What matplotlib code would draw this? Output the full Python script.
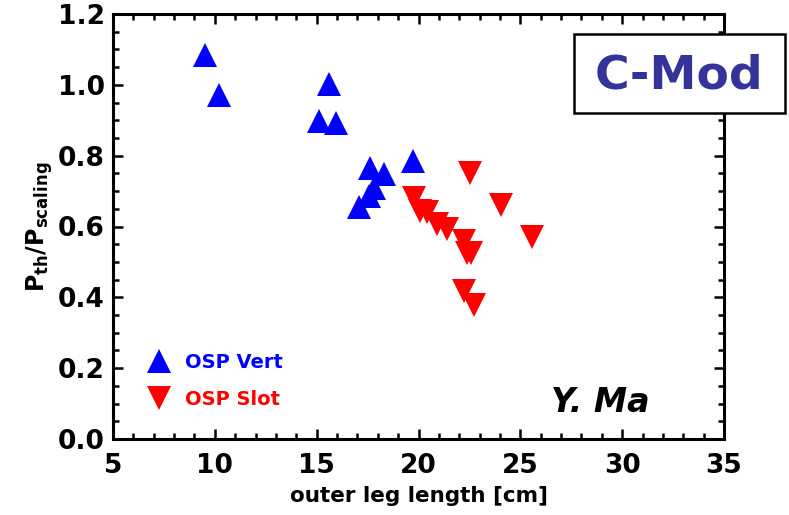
import matplotlib
matplotlib.use("Agg")
import matplotlib.pyplot as plt
from matplotlib.ticker import MultipleLocator

# Data
vert_x = [9.54, 10.20, 15.13, 15.59, 15.95, 17.09, 17.55, 17.83, 17.62, 18.30, 19.74]
vert_y = [1.085, 0.972, 0.897, 1.001, 0.892, 0.655, 0.685, 0.710, 0.765, 0.749, 0.784]

slot_x = [19.80, 20.07, 20.44, 20.93, 21.41, 22.22, 22.36, 22.60, 22.22, 22.73, 22.52, 24.04, 25.59]
slot_y = [0.680, 0.645, 0.641, 0.607, 0.592, 0.558, 0.525, 0.525, 0.419, 0.377, 0.752, 0.662, 0.570]

x_ticks = [5, 10, 15, 20, 25, 30, 35]
y_ticks = [0.0, 0.2, 0.4, 0.6, 0.8, 1.0, 1.2]
series_labels = ["OSP Vert", "OSP Slot"]

plt.rcParams['font.family'] = ['DejaVu Sans']

fig = plt.figure(figsize=(7.89, 5.15), dpi=100)
W, H = 789, 515
ax = fig.add_axes([113 / W, 1 - 439 / H, (724 - 113) / W, (439 - 14) / H])

ax.plot(vert_x, vert_y, linestyle='none', marker='^', markersize=17,
        color='#0000ff', markeredgewidth=0, label=series_labels[0])
ax.plot(slot_x, slot_y, linestyle='none', marker='v', markersize=17,
        color='#ff0000', markeredgewidth=0, label=series_labels[1])

ax.set_xlim(5, 35)
ax.set_ylim(0, 1.2)
ax.set_xticks(x_ticks)
ax.set_yticks(y_ticks)
ax.set_xticklabels([str(t) for t in x_ticks], fontsize=19, fontweight='bold')
ax.set_yticklabels([f"{t:.1f}" for t in y_ticks], fontsize=19, fontweight='bold')
ax.xaxis.set_minor_locator(MultipleLocator(1))
ax.yaxis.set_minor_locator(MultipleLocator(0.05))
ax.tick_params(which='both', direction='in', top=True, right=True, width=1.8, color='black')
ax.tick_params(which='major', length=7)
ax.tick_params(axis='x', which='major', pad=10)
ax.tick_params(axis='y', which='major', pad=6)
ax.tick_params(which='minor', length=4)
for s in ax.spines.values():
    s.set_linewidth(2.2)

ax.set_xlabel("outer leg length [cm]", fontsize=15.5, fontweight='bold', labelpad=5)
ax.set_ylabel(r"$\mathbf{P_{th}/P_{scaling}}$", fontsize=17, labelpad=2)

leg = ax.legend(loc='upper left', bbox_to_anchor=(140 / W, 1 - 343 / H),
                bbox_transform=fig.transFigure, frameon=False,
                prop={'size': 14, 'weight': 'bold'}, handlelength=1.0,
                handletextpad=0.8, labelspacing=0.95, borderpad=0,
                labelcolor='markerfacecolor', markerscale=1.0)

ax.text((600 - 113) / (724 - 113) * 30 + 5, (439 - 402) / 354.2, "Y. Ma",
        fontsize=24, fontweight='bold', fontstyle='italic', ha='center', va='center',
        transform=ax.transData)

# C-Mod label box
fig.patches.append(matplotlib.patches.Rectangle((574 / W, 1 - 113 / H), (785 - 574) / W, (113 - 34) / H,
                   transform=fig.transFigure, facecolor='white', edgecolor='black', linewidth=1.8, zorder=5))
fig.text(679 / W, 1 - 76 / H, "C-Mod", fontsize=34, fontweight='bold', color='#333399',
         ha='center', va='center', zorder=6)

fig.savefig("out.png", dpi=100)
